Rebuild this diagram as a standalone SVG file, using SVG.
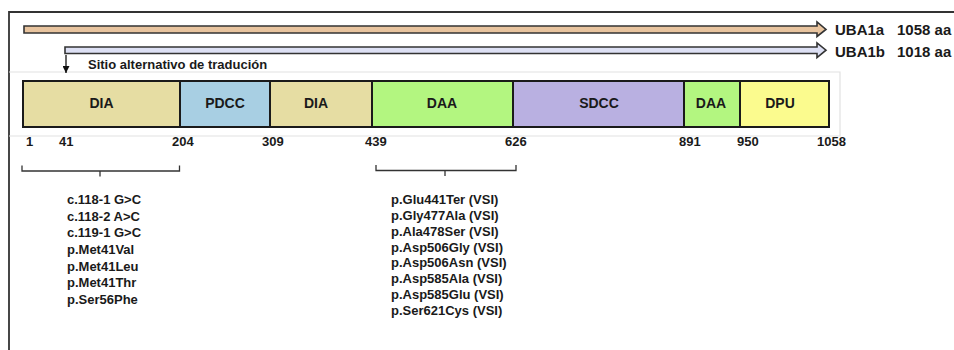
<svg xmlns="http://www.w3.org/2000/svg" width="954" height="350" viewBox="0 0 954 350">
<defs>
<style>
text{font-family:"Liberation Sans",Arial,sans-serif;font-weight:bold;fill:#1a1a1a}
.dom{stroke:#1a1a1a;stroke-width:2}
.dl{font-size:14px;text-anchor:middle}
.num{font-size:13px}
.mut{font-size:13px}
.ba{stroke:#333;stroke-width:1.6;stroke-linejoin:miter}
.br{fill:none;stroke:#333;stroke-width:1.3}
</style>
<marker id="ah" viewBox="0 0 10 10" refX="10" refY="5" markerWidth="7" markerHeight="7" markerUnits="userSpaceOnUse" orient="auto"><path d="M0,0 L10,5 L0,10 z" fill="#111"/></marker>
</defs>
<rect width="954" height="350" fill="#fff"/>
<g id="frame">
<path d="M9,350 V12 H954" fill="none" stroke="#333" stroke-width="1.8"/>
<path d="M9,72 H840 V136 H9" fill="none" stroke="#e2e2e2" stroke-width="1.2"/>
</g>
<g id="connectors">
<path class="ba" d="M24,26 H817 V22 L826,29.5 L817,36.5 V33 H24 Z" fill="#E8C49F"/>
<path class="ba" d="M65,47 H817 V43 L826,50.2 L817,57.5 V53.5 H65 Z" fill="#DDE0F4"/>
<line x1="66" y1="55" x2="66" y2="73" stroke="#111" stroke-width="1.3" marker-end="url(#ah)"/>
<path class="br" d="M22,165.5 V171 H179.5 V165.5 M100,171 V176.5"/>
<path class="br" d="M376,165 V170.5 H516 V165 M445,170.5 V176"/>
</g>
<g id="labels-isoforms">
<text x="835" y="35" font-size="15">UBA1a</text><text x="897" y="35" font-size="15">1058 aa</text>
<text x="835" y="57" font-size="15">UBA1b</text><text x="897" y="57" font-size="15">1018 aa</text>
<text x="88" y="69" font-size="13">Sitio alternativo de tradución</text>
</g>
<g id="dia1"><rect class="dom" x="23" y="81" width="157" height="46" fill="#E6DDA3"/><text class="dl" x="101.5" y="108">DIA</text></g>
<g id="pdcc"><rect class="dom" x="180" y="81" width="90" height="46" fill="#A8CFE3"/><text class="dl" x="225" y="108">PDCC</text></g>
<g id="dia2"><rect class="dom" x="270" y="81" width="102" height="46" fill="#E6DDA3"/><text class="dl" x="316" y="108">DIA</text></g>
<g id="daa1"><rect class="dom" x="372" y="81" width="141" height="46" fill="#B3F680"/><text class="dl" x="442" y="108">DAA</text></g>
<g id="sdcc"><rect class="dom" x="513" y="81" width="171" height="46" fill="#B9B0E1"/><text class="dl" x="599" y="108">SDCC</text></g>
<g id="daa2"><rect class="dom" x="684" y="81" width="56" height="46" fill="#B3F680"/><text class="dl" x="711" y="108">DAA</text></g>
<g id="dpu"><rect class="dom" x="740" y="81" width="89" height="46" fill="#FBFB8E"/><text class="dl" x="780" y="108">DPU</text></g>
<g id="positions">
<text class="num" x="26" y="146">1</text>
<text class="num" x="59" y="146">41</text>
<text class="num" x="172" y="146">204</text>
<text class="num" x="262" y="146">309</text>
<text class="num" x="365" y="146">439</text>
<text class="num" x="505" y="146">626</text>
<text class="num" x="679" y="146">891</text>
<text class="num" x="737" y="146">950</text>
<text class="num" x="817" y="146">1058</text>
</g>
<g id="mutations-dia">
<text class="mut" x="67" y="204">c.118-1 G&gt;C</text>
<text class="mut" x="67" y="220.7">c.118-2 A&gt;C</text>
<text class="mut" x="67" y="237.3">c.119-1 G&gt;C</text>
<text class="mut" x="67" y="254">p.Met41Val</text>
<text class="mut" x="67" y="270.7">p.Met41Leu</text>
<text class="mut" x="67" y="287.3">p.Met41Thr</text>
<text class="mut" x="67" y="304">p.Ser56Phe</text>
</g>
<g id="mutations-daa">
<text class="mut" x="391" y="204">p.Glu441Ter (VSI)</text>
<text class="mut" x="391" y="219.9">p.Gly477Ala (VSI)</text>
<text class="mut" x="391" y="235.7">p.Ala478Ser (VSI)</text>
<text class="mut" x="391" y="251.6">p.Asp506Gly (VSI)</text>
<text class="mut" x="391" y="267.4">p.Asp506Asn (VSI)</text>
<text class="mut" x="391" y="283.3">p.Asp585Ala (VSI)</text>
<text class="mut" x="391" y="299.1">p.Asp585Glu (VSI)</text>
<text class="mut" x="391" y="315">p.Ser621Cys (VSI)</text>
</g>
</svg>
